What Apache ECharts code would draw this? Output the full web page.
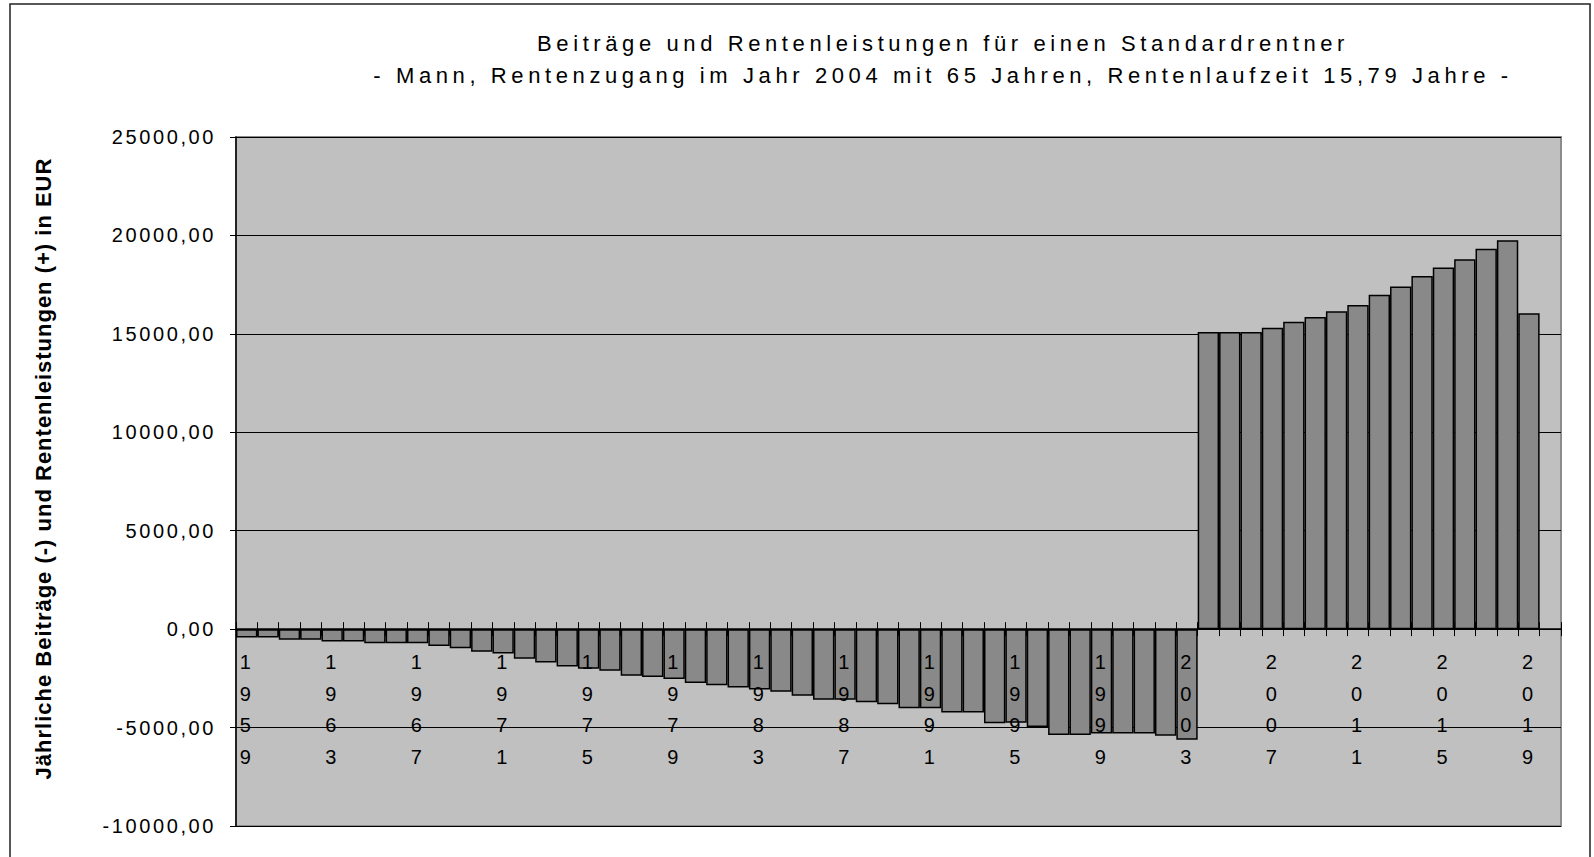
<!DOCTYPE html>
<html>
<head>
<meta charset="utf-8">
<title>Beiträge und Rentenleistungen</title>
<script src="https://cdn.jsdelivr.net/npm/echarts@6/dist/echarts.min.js"></script>
<style>
  html, body { margin: 0; padding: 0; background: #fff; }
  #rente_chart { width: 1594px; height: 857px; }
  /* gesperrte Schrift wie im Excel-Original */
  #rente_chart text { letter-spacing: 2.6px; }
  #rente_chart text[style*="22px"] { letter-spacing: 4.6px; }
  #rente_chart text[style*="bold"] { letter-spacing: 1px; }
</style>
</head>
<body>
<div id="rente_chart"></div>
<script>
   // Jahre 1959 - 2020 (2020 ohne Wert)
   var jahre = ['1959','1960','1961','1962','1963','1964','1965','1966','1967','1968',
                '1969','1970','1971','1972','1973','1974','1975','1976','1977','1978',
                '1979','1980','1981','1982','1983','1984','1985','1986','1987','1988',
                '1989','1990','1991','1992','1993','1994','1995','1996','1997','1998',
                '1999','2000','2001','2002','2003','2004','2005','2006','2007','2008',
                '2009','2010','2011','2012','2013','2014','2015','2016','2017','2018',
                '2019','2020'];
   // Beiträge 1959 - 2003 (negativ)
   var beitraege = [-420,-420,-533,-533,-633,-633,-717,-717,-717,-850,
                    -967,-1150,-1233,-1500,-1700,-1900,-2017,-2117,-2367,-2433,
                    -2533,-2733,-2850,-2967,-3067,-3183,-3383,-3583,-3583,-3717,
                    -3817,-4017,-4017,-4233,-4233,-4783,-4750,-4967,-5383,-5383,
                    -5300,-5300,-5300,-5417,-5617];
   // Rentenleistungen 2004 - 2019
   var renten = [15100,15100,15100,15315,15615,15850,16150,16460,16990,17410,
                 17940,18370,18790,19320,19750,16050];
   // Achse
   var yMin = -10000, yMax = 25000, yStep = 5000;

   var schrift = 'Liberation Sans';
   var gridTop = 137, gridBottom = 31, chartHeight = 857;
   var plotHeight = chartHeight - gridTop - gridBottom;
   // Abstand der Nulllinie vom unteren / oberen Rand des Diagramms
   var nullVonUnten = (0 - yMin) / (yMax - yMin) * plotHeight;
   var nullVonOben = plotHeight - nullVonUnten;

   var renteChart = echarts.init(document.getElementById('rente_chart'), null, {renderer: 'svg'});

   var rente_option = {
        backgroundColor: '#fff',
        animation: false,
        title: [
            {
                text: 'Beiträge und Rentenleistungen für einen Standardrentner',
                left: 943, top: 32, padding: 0,
                textAlign: 'center',
                textStyle: {fontSize: 22, fontWeight: 'normal', fontFamily: schrift, color: '#000'}
            },
            {
                text: '- Mann, Rentenzugang im Jahr 2004 mit 65 Jahren, Rentenlaufzeit 15,79 Jahre -',
                left: 943, top: 64, padding: 0,
                textAlign: 'center',
                textStyle: {fontSize: 22, fontWeight: 'normal', fontFamily: schrift, color: '#000'}
            }
        ],
        graphic: [
            {
                type: 'rect',
                silent: true,
                z: -10,
                shape: {x: 10, y: 4, width: 1580, height: 900},
                style: {fill: 'none', stroke: '#222', lineWidth: 1.5}
            }
        ],
        grid: {
            left: 236, right: 33, top: gridTop, bottom: gridBottom,
            outerBoundsMode: 'none',
            containLabel: false,
            show: true,
            backgroundColor: '#c0c0c0',
            borderColor: '#8c8c8c',
            borderWidth: 2
        },
        xAxis: [
            {
                // Jahreszahlen liegen über den Balken
                type: 'category',
                data: jahre,
                position: 'bottom',
                offset: -nullVonUnten,
                z: 10,
                axisLine: {onZero: false, lineStyle: {color: '#000', width: 1.5}},
                axisTick: {show: true, interval: 0, length: 7, lineStyle: {color: '#000', width: 1}},
                axisLabel: {
                    interval: 3,
                    margin: 17,
                    fontSize: 20,
                    lineHeight: 31.7,
                    fontFamily: schrift,
                    color: '#000',
                    formatter: function (v) { return v.split('').join('\n'); }
                },
                splitLine: {show: false}
            },
            {
                // zweite Achse nur für die nach oben zeigenden Striche
                type: 'category',
                data: jahre,
                position: 'top',
                offset: -nullVonOben,
                axisLine: {show: false, onZero: false},
                axisTick: {show: true, interval: 0, length: 7, lineStyle: {color: '#000', width: 1}},
                axisLabel: {show: false},
                splitLine: {show: false}
            }
        ],
        yAxis: {
            type: 'value',
            min: yMin,
            max: yMax,
            interval: yStep,
            name: 'Jährliche Beiträge (-) und Rentenleistungen (+) in EUR',
            nameLocation: 'middle',
            nameRotate: 90,
            nameGap: 182,
            nameTextStyle: {
                fontSize: 22, fontWeight: 'bold', fontFamily: schrift, color: '#000',
                padding: [0, 0, 0, 26]
            },
            axisLine: {show: true, lineStyle: {color: '#000', width: 1.5}},
            axisTick: {show: true, length: 6, lineStyle: {color: '#000'}},
            axisLabel: {
                margin: 20,
                fontSize: 20,
                fontFamily: schrift,
                color: '#000',
                formatter: function (v) { return v.toFixed(2).replace('.', ','); }
            },
            splitLine: {show: true, lineStyle: {color: '#000', width: 1}}
        },
        series: [
            {
                name: 'Beiträge / Renten',
                type: 'bar',
                xAxisIndex: 0,
                barCategoryGap: '0%',
                itemStyle: {color: '#898989', borderColor: '#000', borderWidth: 1.5},
                data: beitraege.concat(renten)
            }
        ]
   };
   renteChart.setOption(rente_option);
</script>
</body>
</html>
